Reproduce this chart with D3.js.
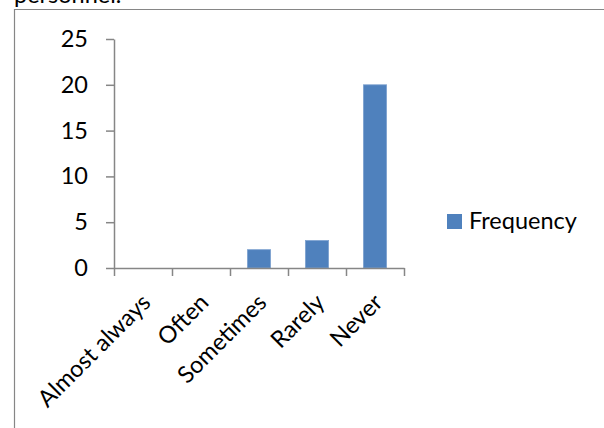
<!DOCTYPE html>
<html>
<head>
<meta charset="utf-8">
<script src="https://cdn.jsdelivr.net/npm/d3@7"></script>
<style>
  html, body { margin: 0; padding: 0; background: #fff; }
  svg { display: block; }
  text { font-family: Lato, "Open Sans", sans-serif; fill: #000; }
</style>
</head>
<body>
<script>
// Frequency of responses per category
const categories = ["Almost always", "Often", "Sometimes", "Rarely", "Never"];
const frequency = [0, 0, 2, 3, 20];
const yTickValues = [0, 5, 10, 15, 20, 25];
const seriesName = "Frequency";
const captionTail = "personnel.";

const W = 604, H = 428;
const FS = "23.5px";
const svg = d3.select("body").append("svg").attr("width", W).attr("height", H);

// caption line running off the top edge
svg.append("text")
  .attr("x", 14).attr("y", 2.5)
  .style("font-size", FS)
  .text(captionTail);

// chart frame (top and left edges)
svg.append("path")
  .attr("d", `M14.5,${H} V9.5 H${W}`)
  .attr("fill", "none")
  .attr("stroke", "#868686")
  .attr("stroke-width", 1.2);

const plot = { left: 114, right: 404, top: 39, bottom: 268 };

const x = d3.scaleBand()
  .domain(categories)
  .range([plot.left, plot.right])
  .paddingInner(0.6)
  .paddingOuter(0.3);

// category boundaries for tick marks
const xEdge = d3.scaleLinear().domain([0, categories.length]).range([plot.left, plot.right]);

const y = d3.scaleLinear().domain([0, 25]).range([plot.bottom, plot.top]);

// y axis
const yAxis = svg.append("g")
  .attr("transform", `translate(${plot.left},0)`)
  .call(d3.axisLeft(y).tickValues(yTickValues).tickSize(8).tickPadding(18).tickSizeOuter(0));
yAxis.select(".domain").attr("stroke", "#868686").attr("stroke-width", 1.5);
yAxis.selectAll(".tick line").attr("stroke", "#868686").attr("stroke-width", 1.5);
yAxis.selectAll(".tick text")
  .style("font-size", FS)
  .style("font-family", "Lato, 'Open Sans', sans-serif")
  .attr("fill", "#000");

// bars
svg.append("g").selectAll("rect")
  .data(categories.map((c, i) => ({ c, v: frequency[i] })))
  .join("rect")
  .attr("x", d => x(d.c))
  .attr("width", x.bandwidth())
  .attr("y", d => y(d.v))
  .attr("height", d => y(0) - y(d.v))
  .attr("fill", "#4f81bd")
  .attr("stroke", "#7ea2d0")
  .attr("stroke-width", 0.8);

// x axis with ticks at category boundaries
const xAxis = svg.append("g")
  .attr("transform", `translate(0,${plot.bottom})`)
  .call(d3.axisBottom(xEdge).tickValues(d3.range(categories.length + 1)).tickSize(8).tickSizeOuter(0).tickFormat(""));
xAxis.select(".domain").attr("stroke", "#868686").attr("stroke-width", 1.5);
xAxis.selectAll(".tick line").attr("stroke", "#868686").attr("stroke-width", 1.5);

// rotated category labels
svg.append("g").selectAll("text")
  .data(categories)
  .join("text")
  .attr("transform", d => `translate(${x(d) + x.bandwidth() / 2 + 9},${plot.bottom + 36}) rotate(-45)`)
  .attr("text-anchor", "end")
  .style("font-size", FS)
  .text(d => d);

// legend
const legend = svg.append("g").attr("transform", "translate(447,214)");
legend.append("rect").attr("width", 15).attr("height", 15).attr("fill", "#4f81bd");
legend.append("text")
  .attr("x", 22).attr("y", 15)
  .style("font-size", FS)
  .text(seriesName);
</script>
</body>
</html>
